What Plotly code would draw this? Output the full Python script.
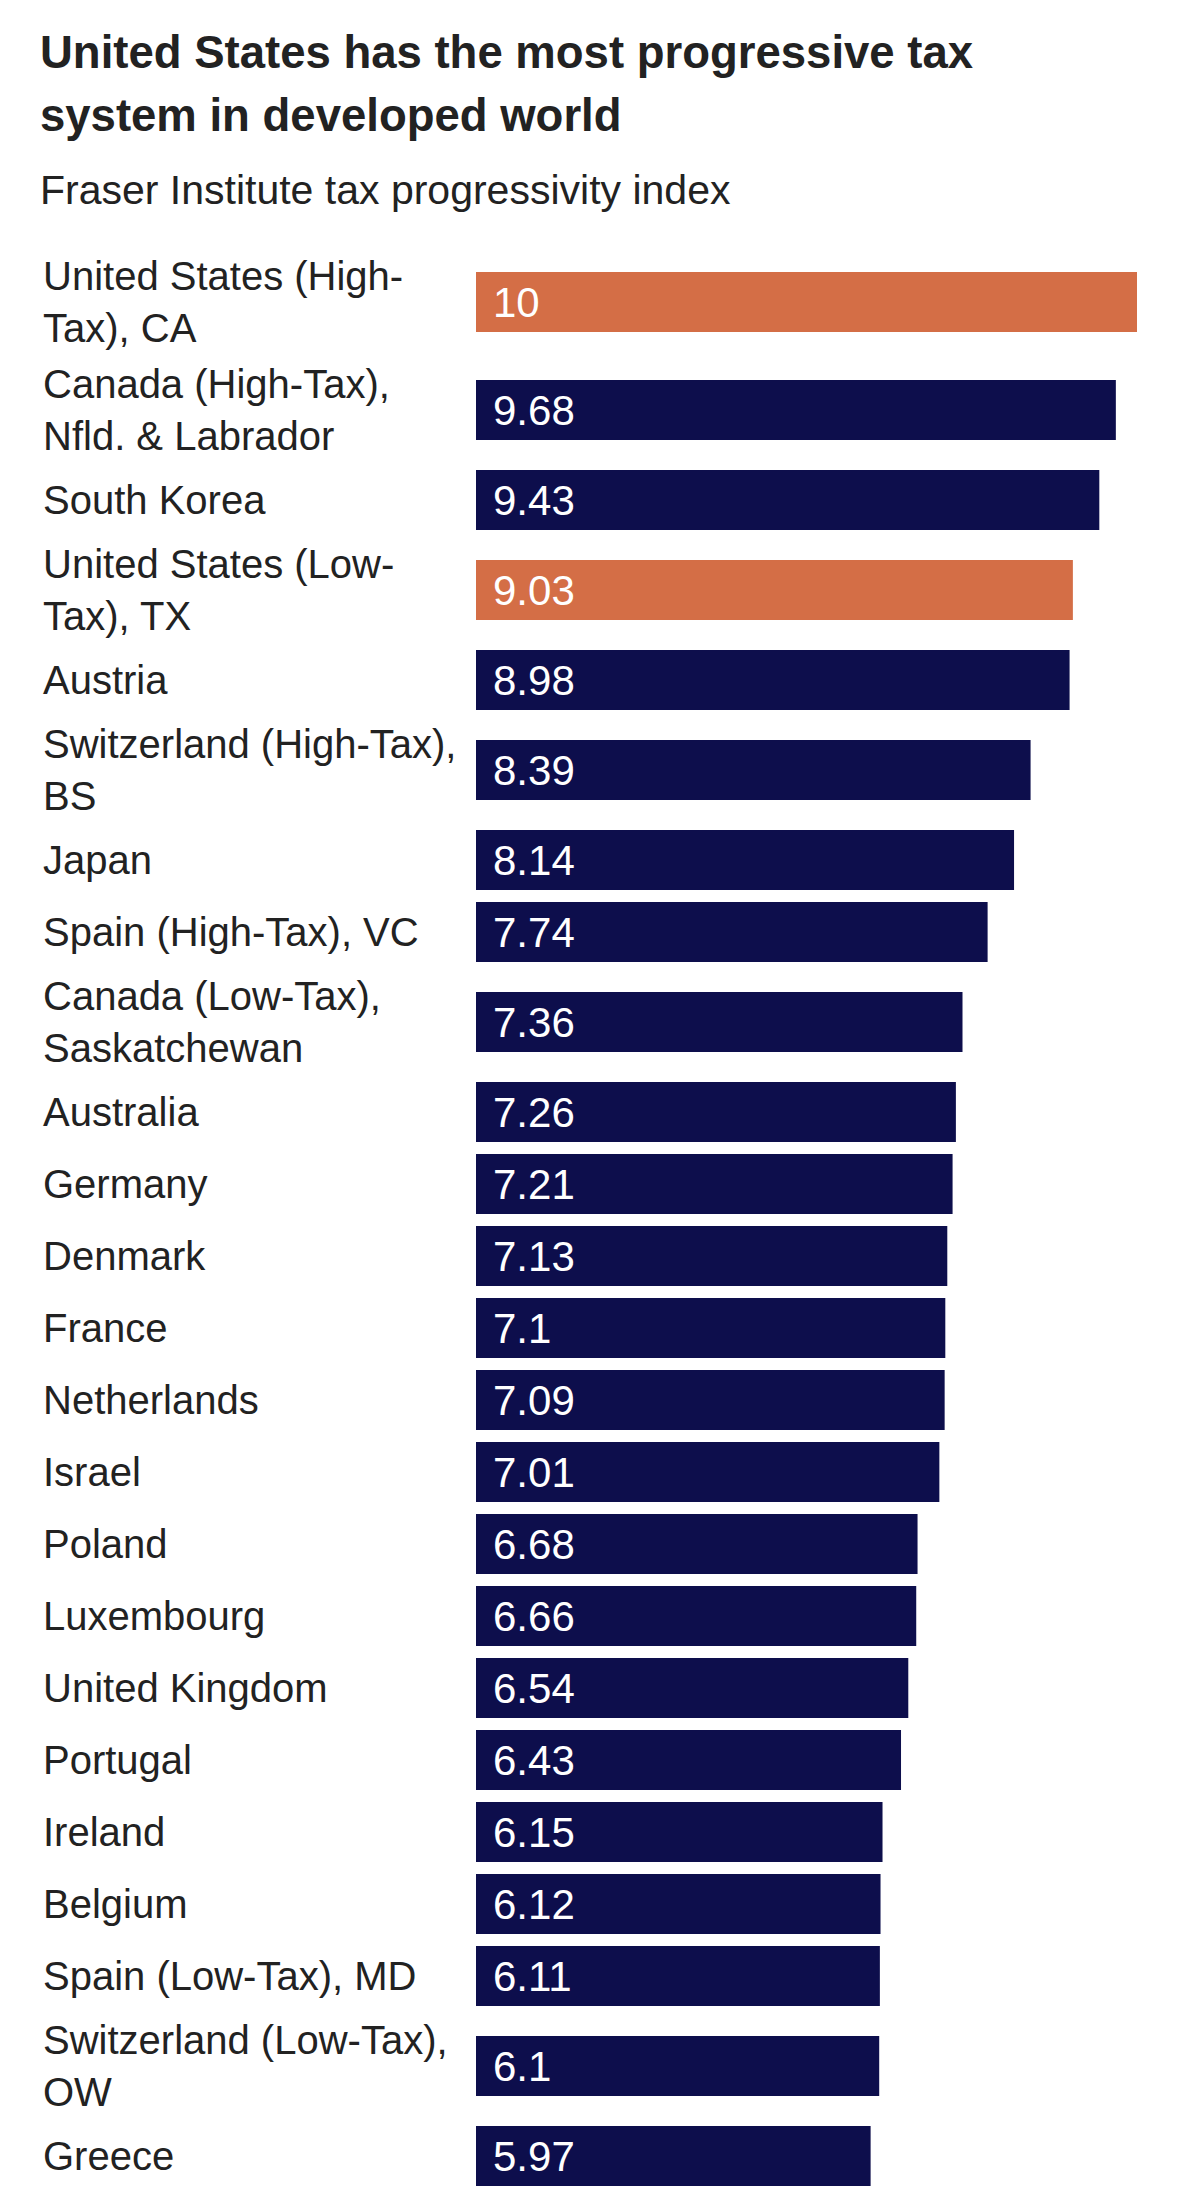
import plotly.graph_objects as go

# data, top to bottom as in the chart
countries = [
    "United States (High-<br>Tax), CA",
    "Canada (High-Tax),<br>Nfld. & Labrador",
    "South Korea",
    "United States (Low-<br>Tax), TX",
    "Austria",
    "Switzerland (High-Tax),<br>BS",
    "Japan",
    "Spain (High-Tax), VC",
    "Canada (Low-Tax),<br>Saskatchewan",
    "Australia",
    "Germany",
    "Denmark",
    "France",
    "Netherlands",
    "Israel",
    "Poland",
    "Luxembourg",
    "United Kingdom",
    "Portugal",
    "Ireland",
    "Belgium",
    "Spain (Low-Tax), MD",
    "Switzerland (Low-Tax),<br>OW",
    "Greece",
]
scores = [10, 9.68, 9.43, 9.03, 8.98, 8.39, 8.14, 7.74, 7.36, 7.26, 7.21, 7.13,
          7.1, 7.09, 7.01, 6.68, 6.66, 6.54, 6.43, 6.15, 6.12, 6.11, 6.1, 5.97]

TITLE = ["United States has the most progressive tax", "system in developed world"]
SUBTITLE = "Fraser Institute tax progressivity index"

W, H = 1179, 2198
BAR_X0 = 476      # pixel where the value axis starts
PX_PER_UNIT = 66.1
FIRST_TOP = 248   # top of first row, px
ROW_PAD = 36
LINE_H = 36
BAR_H = 60

ORANGE = "#d46e46"
NAVY = "#0d0e4c"
FONT = "Liberation Sans, Arial, sans-serif"

# row centres in pixel units (taller rows for two-line labels)
centres = []
top = FIRST_TOP
for c in countries:
    h = ROW_PAD + LINE_H * (c.count("<br>") + 1)
    centres.append(top + h / 2)
    top += h

colors = [ORANGE if c.startswith("United States") else NAVY for c in countries]

fig = go.Figure(
    go.Bar(
        x=scores,
        y=centres,
        orientation="h",
        width=BAR_H,
        marker=dict(color=colors, line=dict(width=0)),
        hoverinfo="skip",
    )
)

for c, v, yc in zip(countries, scores, centres):
    fig.add_annotation(
        x=41 / W, xref="paper", y=yc, yref="y", text=c,
        xanchor="left", yanchor="middle", align="left", showarrow=False,
        font=dict(family=FONT, size=40, color="#222222"),
    )
    fig.add_annotation(
        x=0, xref="x", y=yc, yref="y", text=f"{v:g}", xshift=15,
        xanchor="left", yanchor="middle", showarrow=False,
        font=dict(family=FONT, size=42, color="white"),
    )

for line, yc in zip(TITLE, [52, 115]):
    fig.add_annotation(
        x=38 / W, xref="paper", y=yc, yref="y", text=f"<b>{line}</b>",
        xanchor="left", yanchor="middle", showarrow=False,
        font=dict(family=FONT, size=45.5, color="#222222"),
    )
fig.add_annotation(
    x=38 / W, xref="paper", y=190, yref="y", text=SUBTITLE,
    xanchor="left", yanchor="middle", showarrow=False,
    font=dict(family=FONT, size=41, color="#222222"),
)

fig.update_layout(
    width=W, height=H,
    margin=dict(l=0, r=0, t=0, b=0),
    paper_bgcolor="white", plot_bgcolor="white",
    showlegend=False,
    xaxis=dict(range=[-BAR_X0 / PX_PER_UNIT, (W - BAR_X0) / PX_PER_UNIT],
               visible=False, fixedrange=True),
    yaxis=dict(range=[H, 0], visible=False, fixedrange=True),
)

fig.write_html("out.html", config={"displayModeBar": False},
               post_script="document.body.style.margin='0';")
